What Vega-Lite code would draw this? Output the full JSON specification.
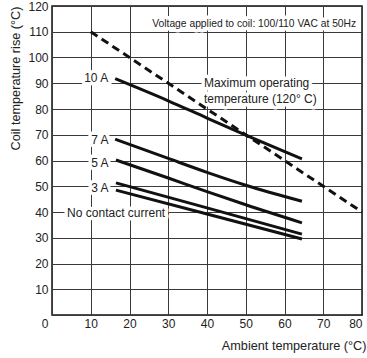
{
  "$schema": "https://vega.github.io/schema/vega-lite/v6.json",
  "width": 310,
  "height": 309,
  "autosize": {"type": "none"},
  "padding": {"left": 52, "top": 6, "right": 5, "bottom": 43},
  "background": "white",
  "config": {
    "font": "Liberation Sans",
    "view": {"stroke": "#111", "strokeWidth": 1.5},
    "axis": {
      "labelFont": "Liberation Sans",
      "titleFont": "Liberation Sans",
      "labelFontSize": 12,
      "titleFontSize": 12.7,
      "titleFontWeight": "normal",
      "labelColor": "#222",
      "titleColor": "#222",
      "gridColor": "#3a3a3a",
      "gridWidth": 1,
      "gridOpacity": 1,
      "tickSize": 0,
      "domain": false
    }
  },
  "datasets": {
    "curves": [
      {"series": "max", "ambient": 10, "rise": 110},
      {"series": "max", "ambient": 80, "rise": 40},
      {"series": "10 A", "ambient": 16.3, "rise": 91.8},
      {"series": "10 A", "ambient": 30, "rise": 83.2},
      {"series": "10 A", "ambient": 40, "rise": 76.5},
      {"series": "10 A", "ambient": 50, "rise": 69.9},
      {"series": "10 A", "ambient": 64.5, "rise": 60.6},
      {"series": "7 A", "ambient": 16.3, "rise": 68.3},
      {"series": "7 A", "ambient": 30, "rise": 60.8},
      {"series": "7 A", "ambient": 40, "rise": 55.4},
      {"series": "7 A", "ambient": 50, "rise": 50.4},
      {"series": "7 A", "ambient": 64.5, "rise": 44.2},
      {"series": "5 A", "ambient": 16.5, "rise": 60.2},
      {"series": "5 A", "ambient": 30, "rise": 53.2},
      {"series": "5 A", "ambient": 40, "rise": 47.9},
      {"series": "5 A", "ambient": 50, "rise": 42.8},
      {"series": "5 A", "ambient": 64.5, "rise": 35.8},
      {"series": "3 A", "ambient": 16.5, "rise": 51.3},
      {"series": "3 A", "ambient": 40, "rise": 41.6},
      {"series": "3 A", "ambient": 64.5, "rise": 31.4},
      {"series": "none", "ambient": 16.5, "rise": 48.5},
      {"series": "none", "ambient": 40, "rise": 39.2},
      {"series": "none", "ambient": 64.5, "rise": 29.5}
    ],
    "notes": [
      {"label": "10 A", "ambient": 14.5, "rise": 92.2, "side": "right", "size": 12},
      {"label": "7 A", "ambient": 14.6, "rise": 68.0, "side": "right", "size": 12},
      {"label": "5 A", "ambient": 14.6, "rise": 59.2, "side": "right", "size": 12},
      {"label": "3 A", "ambient": 14.6, "rise": 49.3, "side": "right", "size": 12},
      {"label": "No contact current", "ambient": 3.9, "rise": 39.6, "side": "left", "size": 12},
      {"label": "Maximum operating", "ambient": 39.2, "rise": 90.2, "side": "left", "size": 12},
      {"label": "temperature (120° C)", "ambient": 39.2, "rise": 83.9, "side": "left", "size": 12},
      {"label": "Voltage applied to coil: 100/110 VAC at 50Hz", "ambient": 78.5, "rise": 113, "side": "right", "size": 10.3}
    ]
  },
  "encoding": {
    "x": {
      "field": "ambient",
      "type": "quantitative",
      "scale": {"domain": [0, 80], "nice": false},
      "axis": {
        "values": [0, 10, 20, 30, 40, 50, 60, 70, 80],
        "title": "Ambient temperature (°C)",
        "labelPadding": 3,
        "labelAlign": {"condition": [{"test": "datum.value == 0", "value": "right"}, {"test": "datum.value == 80", "value": "right"}], "value": "center"},
        "labelOffset": {"condition": [{"test": "datum.value == 0", "value": -4}, {"test": "datum.value == 80", "value": 0}], "value": 0},
        "titleX": 314,
        "titleY": 30,
        "titleAlign": "right",
        "titleBaseline": "middle"
      }
    },
    "y": {
      "field": "rise",
      "type": "quantitative",
      "scale": {"domain": [0, 120], "nice": false},
      "axis": {
        "values": [0, 10, 20, 30, 40, 50, 60, 70, 80, 90, 100, 110, 120],
        "labelExpr": "datum.value == 0 ? '' : datum.label",
        "title": "Coil temperature rise (°C)",
        "labelPadding": 4,
        "titleX": -37,
        "titleY": 0,
        "titleAngle": -90,
        "titleAlign": "right",
        "titleBaseline": "middle"
      }
    }
  },
  "layer": [
    {
      "data": {"name": "notes"},
      "transform": [{"filter": "datum.side == 'left'"}],
      "mark": {"type": "text", "align": "left", "stroke": "white", "strokeWidth": 7, "strokeJoin": "round", "fill": "white", "baseline": "middle"},
      "encoding": {
        "text": {"field": "label"},
        "size": {"field": "size", "type": "quantitative", "scale": null}
      }
    },
    {
      "data": {"name": "notes"},
      "transform": [{"filter": "datum.side == 'right'"}],
      "mark": {"type": "text", "align": "right", "stroke": "white", "strokeWidth": 7, "strokeJoin": "round", "fill": "white", "baseline": "middle"},
      "encoding": {
        "text": {"field": "label"},
        "size": {"field": "size", "type": "quantitative", "scale": null}
      }
    },
    {
      "data": {"name": "curves"},
      "transform": [{"filter": "datum.series == 'max'"}],
      "mark": {"type": "line", "color": "#111", "strokeWidth": 3, "strokeDash": [8, 5]},
      "encoding": {"detail": {"field": "series"}}
    },
    {
      "data": {"name": "curves"},
      "transform": [{"filter": "datum.series != 'max'"}],
      "mark": {"type": "line", "color": "#111", "strokeWidth": 3, "interpolate": "monotone"},
      "encoding": {"detail": {"field": "series"}}
    },
    {
      "data": {"name": "notes"},
      "transform": [{"filter": "datum.side == 'left'"}],
      "mark": {"type": "text", "align": "left", "color": "#222", "baseline": "middle"},
      "encoding": {
        "text": {"field": "label"},
        "size": {"field": "size", "type": "quantitative", "scale": null}
      }
    },
    {
      "data": {"name": "notes"},
      "transform": [{"filter": "datum.side == 'right'"}],
      "mark": {"type": "text", "align": "right", "color": "#222", "baseline": "middle"},
      "encoding": {
        "text": {"field": "label"},
        "size": {"field": "size", "type": "quantitative", "scale": null}
      }
    }
  ]
}
